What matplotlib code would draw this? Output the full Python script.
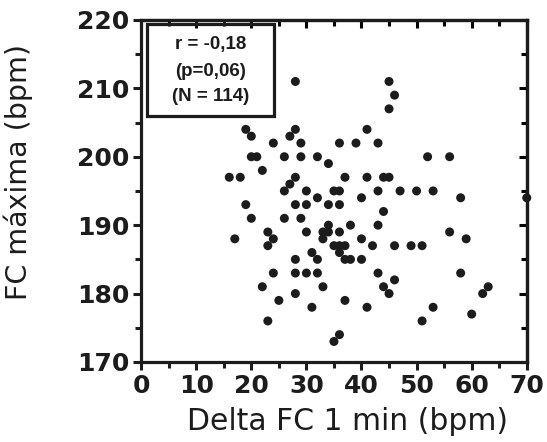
import matplotlib.pyplot as plt
from matplotlib.patches import Rectangle
from matplotlib.ticker import MultipleLocator

# Delta FC 1 min (bpm) x FC maxima (bpm)
delta_fc = [28, 45, 46, 45, 19, 28, 41, 20, 27, 24, 29, 36, 39, 43,
            20, 21, 26, 29, 32, 52, 56, 34, 22, 16, 18, 28, 37, 41,
            44, 45, 27, 26, 30, 35, 36, 43, 47, 50, 53, 32, 40, 58,
            70, 19, 28, 30, 34, 36, 44, 20, 26, 29, 34, 38, 43, 23,
            30, 33, 36, 56, 17, 24, 33, 40, 59, 23, 35, 37, 42, 46,
            49, 51, 31, 36, 28, 32, 37, 38, 40, 24, 28, 30, 32, 43,
            58, 46, 22, 33, 44, 63, 28, 45, 62, 25, 37, 31, 41, 53,
            60, 23, 51, 36, 35, 36, 34]
fc_max = [211, 211, 209, 207, 204, 204, 204, 203, 203, 202, 202, 202, 202, 202,
          200, 200, 200, 200, 200, 200, 200, 199, 198, 197, 197, 197, 197, 197,
          197, 197, 196, 195, 195, 195, 195, 195, 195, 195, 195, 194, 194, 194,
          194, 193, 193, 193, 193, 193, 192, 191, 191, 191, 190, 190, 190, 189,
          189, 189, 189, 189, 188, 188, 188, 188, 188, 187, 187, 187, 187, 187,
          187, 187, 186, 186, 185, 185, 185, 185, 185, 183, 183, 183, 183, 183,
          183, 182, 181, 181, 181, 181, 180, 180, 180, 179, 179, 178, 178, 178,
          177, 176, 176, 174, 173, 187, 189]

stats_lines = ["r = -0,18", "(p=0,06)", "(N = 114)"]

fig = plt.figure(figsize=(5.47, 4.42), dpi=100)
ax = fig.add_axes([0.258, 0.181, 0.705, 0.774])

ax.scatter(delta_fc, fc_max, s=42, color="#1c1c1c", edgecolors="none",
           zorder=3, clip_on=False)

ax.set_xlim(0, 70)
ax.set_ylim(170, 220)
ax.xaxis.set_major_locator(MultipleLocator(10))
ax.xaxis.set_minor_locator(MultipleLocator(5))
ax.yaxis.set_major_locator(MultipleLocator(10))
ax.yaxis.set_minor_locator(MultipleLocator(5))

for side in ["left", "right", "top", "bottom"]:
    ax.spines[side].set_linewidth(2.3)
    ax.spines[side].set_color("#1c1c1c")

# fora na esquerda/baixo, dentro na direita/cima
ax.tick_params(which="both", direction="out", width=2.2, color="#1c1c1c",
               top=False, right=False)
ax.tick_params(which="major", length=6)
ax.tick_params(which="minor", length=4)
ax.tick_params(axis="both", labelsize=18, pad=2.5)

ax_r = ax.secondary_yaxis("right")
ax_r.yaxis.set_major_locator(MultipleLocator(10))
ax_r.yaxis.set_minor_locator(MultipleLocator(5))
ax_r.tick_params(which="both", direction="in", width=2.2, labelright=False)
ax_r.tick_params(which="major", length=6)
ax_r.tick_params(which="minor", length=4)
ax_r.spines["right"].set_linewidth(2.3)

ax_t = ax.secondary_xaxis("top")
ax_t.xaxis.set_major_locator(MultipleLocator(10))
ax_t.xaxis.set_minor_locator(MultipleLocator(5))
ax_t.tick_params(which="both", direction="in", width=2.2, labeltop=False)
ax_t.tick_params(which="major", length=6)
ax_t.tick_params(which="minor", length=4)
ax_t.spines["top"].set_linewidth(2.3)

for lbl in ax.get_xticklabels() + ax.get_yticklabels():
    lbl.set_fontweight("bold")
    lbl.set_color("#1c1c1c")

ax.set_xlabel("Delta FC 1 min (bpm)", fontsize=21.5, color="#1c1c1c")
ax.set_ylabel("FC máxima (bpm)", fontsize=20.5, color="#1c1c1c")
ax.xaxis.set_label_coords(0.536, -0.132)
ax.yaxis.set_label_coords(-0.28, 0.556)

# caixa com estatisticas
box = Rectangle((0.016, 0.719), 0.329, 0.269, transform=ax.transAxes,
                fill=False, linewidth=2.3, edgecolor="#1c1c1c", zorder=4)
ax.add_patch(box)
for text, ypos in zip(stats_lines, [0.927, 0.848, 0.775]):
    ax.text(0.18, ypos, text, transform=ax.transAxes, ha="center",
            va="center", fontsize=13.5, fontweight="bold",
            family="Liberation Sans", color="#1c1c1c", zorder=5)

fig.savefig("out.png", dpi=100)
